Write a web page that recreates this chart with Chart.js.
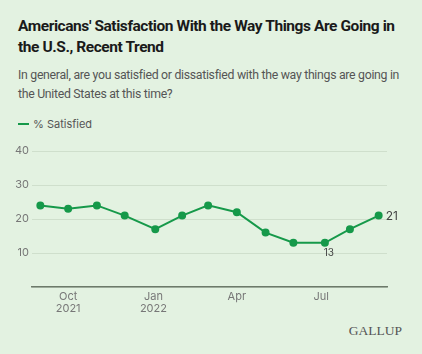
<!DOCTYPE html>
<html>
<head>
<meta charset="utf-8">
<script src="https://cdn.jsdelivr.net/npm/chart.js@4.4.1/dist/chart.umd.min.js"></script>
<style>
  html, body { margin: 0; padding: 0; }
  body { width: 422px; height: 354px; background: #e3f2e1; position: relative; overflow: hidden; font-family: Inter, "Noto Sans", sans-serif; }
  #titulo { position: absolute; left: 18px; top: 16px; white-space: nowrap; font-family: Roboto, sans-serif; font-size: 15.5px; font-weight: 700; line-height: 21px; color: #1a1a1a; letter-spacing: -0.43px; }
  #sub { position: absolute; left: 18px; top: 66px; white-space: nowrap; font-family: Roboto, sans-serif; font-size: 12.3px; line-height: 19px; color: #555; letter-spacing: -0.3px; }
  #legenda { position: absolute; left: 18px; top: 117px; font-size: 11px; color: #555; }
  #legenda span.l { display: inline-block; width: 11px; height: 2px; background: #16994a; vertical-align: middle; margin-right: 4px; position: relative; top: -1px; }
  #marca { position: absolute; right: 20px; top: 323px; font-family: "Liberation Serif", serif; font-size: 13.5px; color: #555; }
  canvas { position: absolute; left: 0; top: 0; }
</style>
</head>
<body>
<div id="titulo">Americans' Satisfaction With the Way Things Are Going in<br>the U.S., Recent Trend</div>
<div id="sub">In general, are you satisfied or dissatisfied with the way things are going in<br>the United States at this time?</div>
<div id="legenda"><span class="l"></span>% Satisfied</div>
<div id="marca">GALLUP</div>
<canvas id="grafico" width="422" height="354"></canvas>
<script>
// Datas das pesquisas (inicio do campo)
const datas = ["2021-09-01", "2021-10-01", "2021-11-01", "2021-12-01", "2022-01-03", "2022-02-01",
  "2022-03-01", "2022-04-01", "2022-05-02", "2022-06-01", "2022-07-05", "2022-08-01", "2022-09-01"];
const satisfeitos = [24, 23, 24, 21, 17, 21, 24, 22, 16, 13, 13, 17, 21];
const ticksX = ["2021-10-01", "2022-01-01", "2022-04-01", "2022-07-01"];
const rotulosX = [["Oct", "2021"], ["Jan", "2022"], ["Apr"], ["Jul"]];
const ticksY = [10, 20, 30, 40];
const rotulados = [10, 12]; // indices com valor escrito

const DIA = 86400000;
const base = Date.UTC(2021, 9, 1);
const dias = s => (Date.parse(s + "T00:00:00Z") - base) / DIA;

const pontos = datas.map((d, i) => ({ x: dias(d), y: satisfeitos[i] }));
const posTicks = ticksX.map(dias);

// Escreve os rotulos de valor
const rotulosValor = {
  id: "rotulosValor",
  afterDatasetsDraw(chart) {
    const ctx = chart.ctx;
    const meta = chart.getDatasetMeta(0);
    ctx.save();
    ctx.fillStyle = "#444";
    rotulados.forEach(i => {
      const p = meta.data[i];
      if (i === datas.length - 1) {
        ctx.textAlign = "left";
        ctx.textBaseline = "middle";
        ctx.font = "12px Inter, sans-serif";
        ctx.fillText(satisfeitos[i], p.x + 7, p.y + 1);
      } else {
        ctx.textAlign = "center";
        ctx.textBaseline = "top";
        ctx.font = "10px Inter, sans-serif";
        ctx.fillText(satisfeitos[i], p.x + 4, p.y + 5);
      }
    });
    ctx.restore();
  }
};

new Chart(document.getElementById("grafico"), {
  type: "line",
  data: {
    datasets: [{
      label: "% Satisfied",
      data: pontos,
      borderColor: "#16994a",
      backgroundColor: "#16994a",
      borderWidth: 2,
      pointRadius: 3,
      pointHoverRadius: 3,
      tension: 0
    }]
  },
  options: {
    responsive: false,
    animation: false,
    layout: { padding: { top: 151, bottom: 27, left: 0, right: 35 } },
    plugins: { legend: { display: false }, tooltip: { enabled: false } },
    scales: {
      x: {
        type: "linear",
        min: dias("2021-08-23"),
        max: dias("2022-09-10"),
        afterBuildTicks: axis => { axis.ticks = posTicks.map(v => ({ value: v })); },
        afterFit: axis => { axis.height = 40; },
        grid: { display: false, drawTicks: false },
        border: { color: "#6d7a6a", width: 1.5 },
        ticks: {
          color: "#777",
          font: { size: 11, family: "Inter, sans-serif", lineHeight: 1.1 },
          padding: 4,
          maxRotation: 0,
          callback: (v, i) => rotulosX[i]
        }
      },
      y: {
        min: 0,
        max: 40,
        afterBuildTicks: axis => { axis.ticks = [0].concat(ticksY).map(v => ({ value: v })); },
        afterFit: axis => { axis.width = 32; },
        grid: { color: "#cfdfcc", drawTicks: false, lineWidth: 1 },
        border: { display: false },
        ticks: {
          color: "#777",
          font: { size: 11, family: "Inter, sans-serif" },
          padding: 3,
          callback: v => (v === 0 ? "" : v)
        }
      }
    }
  },
  plugins: [rotulosValor]
});
</script>
</body>
</html>
